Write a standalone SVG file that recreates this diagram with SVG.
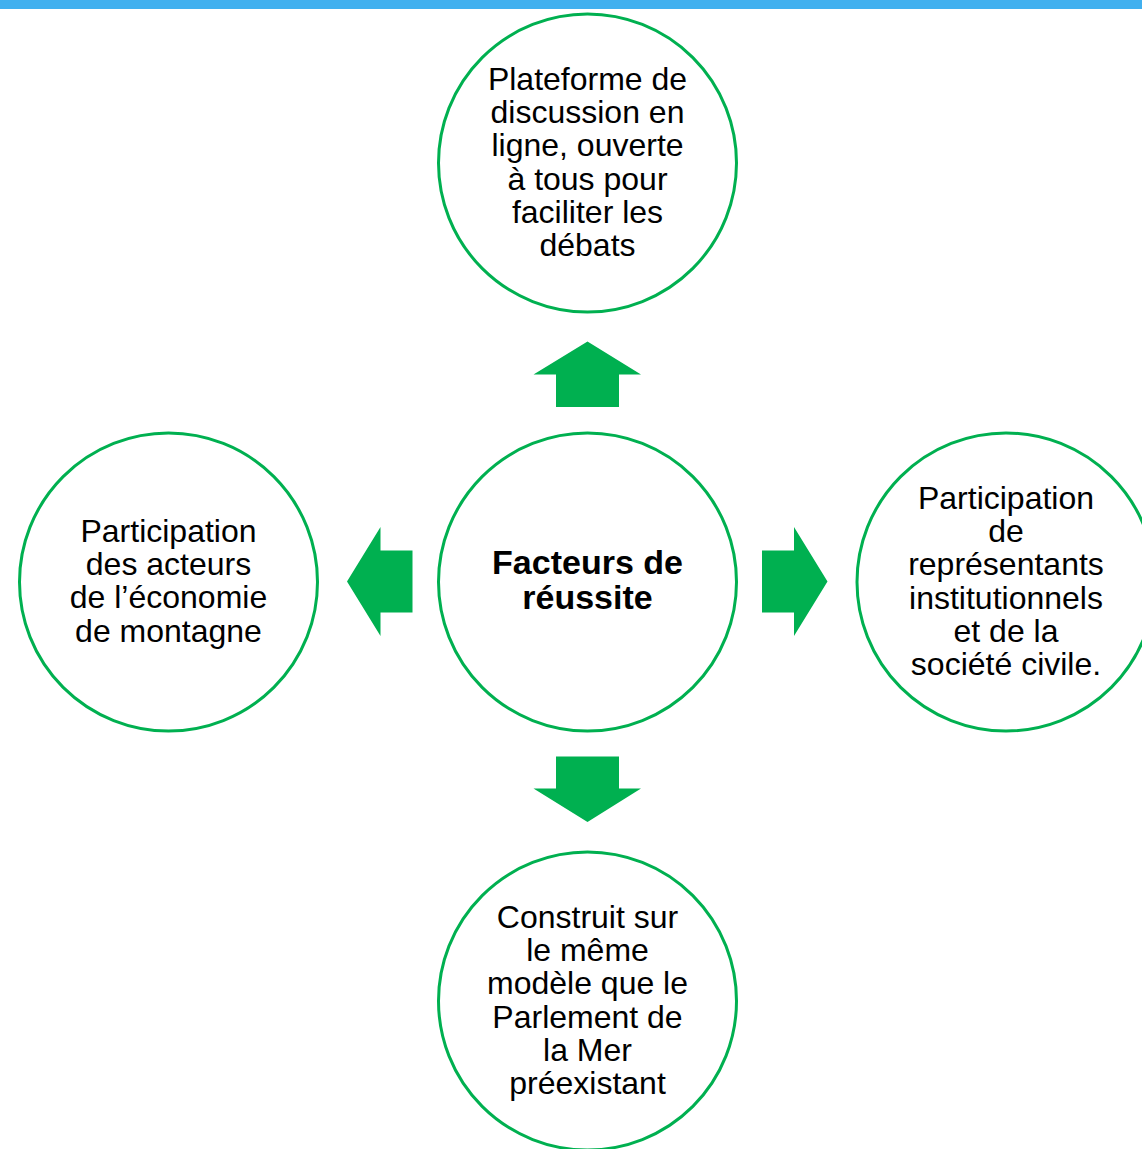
<svg xmlns="http://www.w3.org/2000/svg" width="1142" height="1149" viewBox="0 0 1142 1149">
<style>
.c{fill:#fff;stroke:#00B050;stroke-width:3}
.t{font-family:"Liberation Sans",Arial,sans-serif;font-size:32px;fill:#000;text-anchor:middle}
.b{font-family:"Liberation Sans",Arial,sans-serif;font-size:34px;font-weight:bold;fill:#000;text-anchor:middle}
.a{fill:#00B050}
</style>
<rect x="0" y="0" width="1142" height="9" fill="#41B0EF"/>
<g id="connectors">
<polygon class="a" points="587.5,341.5 641,374.5 619,374.5 619,407 556,407 556,374.5 533.5,374.5"/>
<polygon class="a" points="587.5,822 641,788.5 619,788.5 619,756.5 556,756.5 556,788.5 533.5,788.5"/>
<polygon class="a" points="347,581.5 380.5,527 380.5,550.5 412.5,550.5 412.5,612.5 380.5,612.5 380.5,636"/>
<polygon class="a" points="827.5,581.5 794,527 794,550.5 762,550.5 762,612.5 794,612.5 794,636"/>
</g>
<g id="top">
<circle class="c" cx="587.5" cy="163" r="149"/>
<text class="t" x="587.5" y="89.5">Plateforme de</text>
<text class="t" x="587.5" y="123">discussion en</text>
<text class="t" x="587.5" y="156">ligne, ouverte</text>
<text class="t" x="587.5" y="189.5">à tous pour</text>
<text class="t" x="587.5" y="223">faciliter les</text>
<text class="t" x="587.5" y="256">débats</text>
</g>
<g id="center">
<circle class="c" cx="587.5" cy="582" r="149"/>
<text class="b" x="587.5" y="574">Facteurs de</text>
<text class="b" x="587.5" y="609">réussite</text>
</g>
<g id="left">
<circle class="c" cx="168.5" cy="582" r="149"/>
<text class="t" x="168.5" y="541.5">Participation</text>
<text class="t" x="168.5" y="575">des acteurs</text>
<text class="t" x="168.5" y="608">de l’économie</text>
<text class="t" x="168.5" y="641.5">de montagne</text>
</g>
<g id="right">
<circle class="c" cx="1006" cy="582" r="149"/>
<text class="t" x="1006" y="508.5">Participation</text>
<text class="t" x="1006" y="542">de</text>
<text class="t" x="1006" y="575">représentants</text>
<text class="t" x="1006" y="608.5">institutionnels</text>
<text class="t" x="1006" y="642">et de la</text>
<text class="t" x="1006" y="675">société civile.</text>
</g>
<g id="bottom">
<circle class="c" cx="587.5" cy="1001" r="149"/>
<text class="t" x="587.5" y="927.5">Construit sur</text>
<text class="t" x="587.5" y="961">le même</text>
<text class="t" x="587.5" y="994">modèle que le</text>
<text class="t" x="587.5" y="1027.5">Parlement de</text>
<text class="t" x="587.5" y="1061">la Mer</text>
<text class="t" x="587.5" y="1094">préexistant</text>
</g>
</svg>
